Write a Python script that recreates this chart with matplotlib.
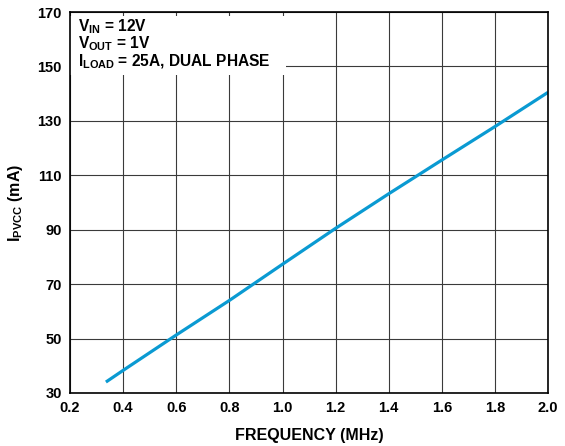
import matplotlib
matplotlib.use("Agg")
import matplotlib.pyplot as plt
from matplotlib.patches import Rectangle

freq_mhz = [0.335, 0.4, 0.6, 0.8, 1.0, 1.2, 1.4, 1.6, 1.8, 2.0]
ipvcc_ma = [34.0, 38.3, 51.3, 64.0, 77.3, 90.5, 103.2, 115.6, 127.9, 140.5]
x_ticks = [0.2, 0.4, 0.6, 0.8, 1.0, 1.2, 1.4, 1.6, 1.8, 2.0]
y_ticks = [30, 50, 70, 90, 110, 130, 150, 170]
notes = [r"$\mathbf{V_{IN}}$ = 12V", r"$\mathbf{V_{OUT}}$ = 1V",
         r"$\mathbf{I_{LOAD}}$ = 25A, DUAL PHASE"]

plt.rcParams['font.family'] = ['Liberation Sans', 'DejaVu Sans']
plt.rcParams['font.weight'] = 'bold'
plt.rcParams['mathtext.fontset'] = 'custom'
plt.rcParams['mathtext.bf'] = 'Liberation Sans:bold'
plt.rcParams['mathtext.rm'] = 'Liberation Sans:bold'
plt.rcParams['mathtext.it'] = 'Liberation Sans:bold'

fig = plt.figure(figsize=(5.65, 4.46), dpi=100)
ax = fig.add_axes([0.124, 0.119, 0.846, 0.854])
ax.set_xlim(0.2, 2.0)
ax.set_ylim(30, 170)
ax.set_xticks(x_ticks)
ax.set_yticks(y_ticks)
ax.set_xticklabels([f"{v:.1f}" for v in x_ticks])
ax.set_yticklabels([str(v) for v in y_ticks])
ax.set_axisbelow(True)
ax.grid(True, color='#3a3a3a', linewidth=0.8)
ax.tick_params(length=0, pad=6, labelsize=10.5)
for s in ax.spines.values():
    s.set_linewidth(1.2)
    s.set_color('black')

ax.add_patch(Rectangle((0.2, 146.8), 0.813, 21.7, facecolor='white',
                       edgecolor='none', zorder=1))
ax.plot(freq_mhz, ipvcc_ma, color='#0a9ad2', linewidth=2.3, zorder=2,
        solid_capstyle='butt')

baselines = [0.950, 0.904, 0.858]
for t, yb in zip(notes, baselines):
    ax.text(0.017, yb, t, transform=ax.transAxes, fontsize=11.2,
            fontweight='bold', va='baseline', ha='left', zorder=3)

ax.set_xlabel("FREQUENCY (MHz)", fontsize=11.5, fontweight='bold', labelpad=9)
ax.set_ylabel(r"$\mathbf{I_{PVCC}}$ (mA)", fontsize=11.5, fontweight='bold',
              labelpad=9)

fig.savefig("out.png", dpi=100)
